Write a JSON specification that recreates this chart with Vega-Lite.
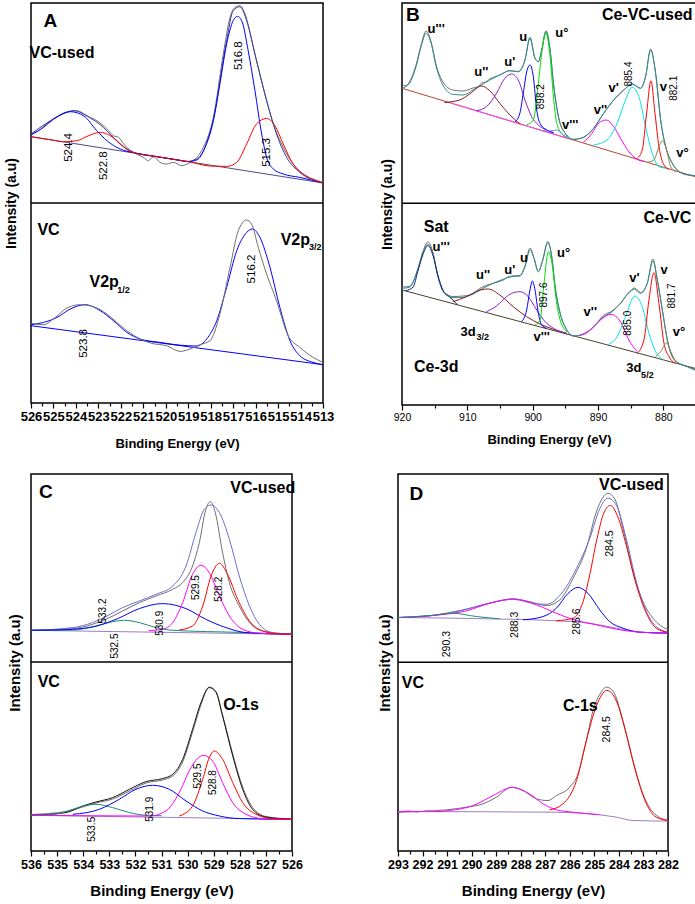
{
"$schema": "https://vega.github.io/schema/vega-lite/v6.json",
"padding": {"left": 3, "top": 2, "right": 0, "bottom": 0},
"config": {
 "font": "Liberation Sans",
 "view": {"stroke": "#000", "strokeWidth": 1.5},
 "axis": {"grid": false, "labelColor": "#000", "titleColor": "#000", "tickColor": "#000", "tickWidth": 1.2, "labelFont": "Liberation Sans", "titleFont": "Liberation Sans", "titleFontWeight": "bold"},
 "text": {"font": "Liberation Sans", "color": "#000"}
},
"datasets": {
"A": [
{"c":"base","s":"t","x":526,"y":266.3},{"c":"base","s":"t","x":513,"y":220},
{"c":"data","s":"t","x":526,"y":269},{"c":"data","s":"t","x":525.73,"y":271.6},{"c":"data","s":"t","x":525.14,"y":282.3},{"c":"data","s":"t","x":524.4,"y":290.6},{"c":"data","s":"t","x":523.96,"y":292.3},{"c":"data","s":"t","x":523.51,"y":287.3},{"c":"data","s":"t","x":523.07,"y":282.3},{"c":"data","s":"t","x":522.62,"y":274},{"c":"data","s":"t","x":522.33,"y":267.3},{"c":"data","s":"t","x":522.1,"y":265.6},{"c":"data","s":"t","x":521.81,"y":257.3},{"c":"data","s":"t","x":521.44,"y":250.6},{"c":"data","s":"t","x":521.0,"y":245.6},{"c":"data","s":"t","x":520.77,"y":242.3},{"c":"data","s":"t","x":520.55,"y":246.3},{"c":"data","s":"t","x":520.25,"y":240.6},{"c":"data","s":"t","x":519.96,"y":239},{"c":"data","s":"t","x":519.66,"y":240.6},{"c":"data","s":"t","x":519.29,"y":237.3},{"c":"data","s":"t","x":518.92,"y":240.6},{"c":"data","s":"t","x":518.62,"y":245.6},{"c":"data","s":"t","x":518.33,"y":255.6},{"c":"data","s":"t","x":517.88,"y":285.6},{"c":"data","s":"t","x":517.44,"y":349},{"c":"data","s":"t","x":517.14,"y":385.6},{"c":"data","s":"t","x":516.92,"y":395.6},{"c":"data","s":"t","x":516.7,"y":397.3},{"c":"data","s":"t","x":516.47,"y":389},{"c":"data","s":"t","x":516.1,"y":355.6},{"c":"data","s":"t","x":515.66,"y":315.6},{"c":"data","s":"t","x":515.21,"y":279},{"c":"data","s":"t","x":514.77,"y":255.6},{"c":"data","s":"t","x":514.33,"y":239},{"c":"data","s":"t","x":513.88,"y":229},{"c":"data","s":"t","x":513.44,"y":224},{"c":"data","s":"t","x":513,"y":220.6},
{"c":"env","s":"t","x":526,"y":269},{"c":"env","s":"t","x":524.99,"y":284},{"c":"env","s":"t","x":524.1,"y":292.3},{"c":"env","s":"t","x":523.36,"y":285},{"c":"env","s":"t","x":522.92,"y":278.3},{"c":"env","s":"t","x":522.33,"y":265.6},{"c":"env","s":"t","x":521.73,"y":254},{"c":"env","s":"t","x":521.29,"y":249.6},{"c":"env","s":"t","x":520.5,"y":246.7},{"c":"env","s":"t","x":519.5,"y":243.1},{"c":"env","s":"t","x":519.07,"y":241.6},{"c":"env","s":"t","x":518.62,"y":244},{"c":"env","s":"t","x":517.88,"y":284},{"c":"env","s":"t","x":517.29,"y":362.3},{"c":"env","s":"t","x":517.0,"y":392.3},{"c":"env","s":"t","x":516.7,"y":396.3},{"c":"env","s":"t","x":516.4,"y":382.3},{"c":"env","s":"t","x":515.96,"y":342.3},{"c":"env","s":"t","x":515.51,"y":302.3},{"c":"env","s":"t","x":515.07,"y":269},{"c":"env","s":"t","x":514.62,"y":245.6},{"c":"env","s":"t","x":514.03,"y":230.6},{"c":"env","s":"t","x":513,"y":220},
{"c":"blue","s":"t","x":526,"y":268},{"c":"blue","s":"t","x":525.44,"y":275.6},{"c":"blue","s":"t","x":524.99,"y":284},{"c":"blue","s":"t","x":524.25,"y":291.3},{"c":"blue","s":"t","x":523.66,"y":287.3},{"c":"blue","s":"t","x":523.07,"y":272.3},{"c":"blue","s":"t","x":522.62,"y":262.3},{"c":"blue","s":"t","x":522.03,"y":254},{"c":"blue","s":"t","x":521.44,"y":250.3},{"c":"blue","s":"t","x":520.5,"y":246.7},{"c":"blue","s":"t","x":519.5,"y":243.1},{"c":"blue","s":"t","x":519.0,"y":241.4},{"c":"blue","s":"t","x":518.62,"y":243},{"c":"blue","s":"t","x":518.25,"y":255.6},{"c":"blue","s":"t","x":517.88,"y":282.3},{"c":"blue","s":"t","x":517.59,"y":319},{"c":"blue","s":"t","x":517.29,"y":359},{"c":"blue","s":"t","x":517.0,"y":382.3},{"c":"blue","s":"t","x":516.81,"y":386.6},{"c":"blue","s":"t","x":516.62,"y":382.3},{"c":"blue","s":"t","x":516.33,"y":352.3},{"c":"blue","s":"t","x":516.03,"y":312.3},{"c":"blue","s":"t","x":515.73,"y":269},{"c":"blue","s":"t","x":515.51,"y":245.6},{"c":"blue","s":"t","x":515.21,"y":234},{"c":"blue","s":"t","x":514.77,"y":229},{"c":"blue","s":"t","x":514.03,"y":225.6},{"c":"blue","s":"t","x":513,"y":220},
{"c":"red","s":"t","x":526,"y":266.3},{"c":"red","s":"t","x":525,"y":262.7},{"c":"red","s":"t","x":524.55,"y":261.2},{"c":"red","s":"t","x":523.96,"y":262.3},{"c":"red","s":"t","x":523.44,"y":267.3},{"c":"red","s":"t","x":522.92,"y":270.6},{"c":"red","s":"t","x":522.47,"y":267.3},{"c":"red","s":"t","x":522.03,"y":259},{"c":"red","s":"t","x":521.59,"y":251.6},{"c":"red","s":"t","x":520.5,"y":246.7},{"c":"red","s":"t","x":519,"y":241.4},{"c":"red","s":"t","x":518,"y":236.9},{"c":"red","s":"t","x":517.29,"y":236.6},{"c":"red","s":"t","x":516.84,"y":240.6},{"c":"red","s":"t","x":516.4,"y":259},{"c":"red","s":"t","x":515.96,"y":279},{"c":"red","s":"t","x":515.51,"y":284.6},{"c":"red","s":"t","x":515.14,"y":277.3},{"c":"red","s":"t","x":514.77,"y":259},{"c":"red","s":"t","x":514.33,"y":239},{"c":"red","s":"t","x":513.88,"y":229},{"c":"red","s":"t","x":513.44,"y":223.3},{"c":"red","s":"t","x":513,"y":220},
{"c":"blue2","s":"b","x":526,"y":77.3},{"c":"blue2","s":"b","x":513,"y":38.3},
{"c":"blue","s":"b","x":526,"y":78.3},{"c":"blue","s":"b","x":525.44,"y":80.6},{"c":"blue","s":"b","x":524.84,"y":85.6},{"c":"blue","s":"b","x":524.25,"y":94},{"c":"blue","s":"b","x":523.59,"y":98.3},{"c":"blue","s":"b","x":522.92,"y":92.3},{"c":"blue","s":"b","x":522.33,"y":82.3},{"c":"blue","s":"b","x":521.73,"y":70.6},{"c":"blue","s":"b","x":521.14,"y":64},{"c":"blue","s":"b","x":520.25,"y":60.6},{"c":"blue","s":"b","x":519.36,"y":57.8},{"c":"blue","s":"b","x":518.62,"y":57},{"c":"blue","s":"b","x":518.18,"y":64},{"c":"blue","s":"b","x":517.73,"y":82.3},{"c":"blue","s":"b","x":517.29,"y":115.6},{"c":"blue","s":"b","x":516.84,"y":152.3},{"c":"blue","s":"b","x":516.4,"y":170.6},{"c":"blue","s":"b","x":516.13,"y":174},{"c":"blue","s":"b","x":515.81,"y":165.6},{"c":"blue","s":"b","x":515.36,"y":135.6},{"c":"blue","s":"b","x":514.92,"y":95.6},{"c":"blue","s":"b","x":514.47,"y":62.3},{"c":"blue","s":"b","x":514.03,"y":47.3},{"c":"blue","s":"b","x":513.44,"y":40.6},{"c":"blue","s":"b","x":513,"y":38.3},
{"c":"data","s":"b","x":526,"y":79.6},{"c":"data","s":"b","x":525.44,"y":78.3},{"c":"data","s":"b","x":524.92,"y":85.6},{"c":"data","s":"b","x":524.4,"y":95},{"c":"data","s":"b","x":523.81,"y":98.3},{"c":"data","s":"b","x":523.22,"y":96.3},{"c":"data","s":"b","x":522.62,"y":89},{"c":"data","s":"b","x":522.18,"y":80.6},{"c":"data","s":"b","x":521.73,"y":72.3},{"c":"data","s":"b","x":521.14,"y":64},{"c":"data","s":"b","x":520.62,"y":59.6},{"c":"data","s":"b","x":519.96,"y":57.3},{"c":"data","s":"b","x":519.36,"y":51.6},{"c":"data","s":"b","x":518.92,"y":54},{"c":"data","s":"b","x":518.48,"y":58.3},{"c":"data","s":"b","x":518.03,"y":62.3},{"c":"data","s":"b","x":517.59,"y":89},{"c":"data","s":"b","x":517.14,"y":135.6},{"c":"data","s":"b","x":516.77,"y":172.3},{"c":"data","s":"b","x":516.4,"y":183},{"c":"data","s":"b","x":516.18,"y":179},{"c":"data","s":"b","x":515.88,"y":155.6},{"c":"data","s":"b","x":515.51,"y":129},{"c":"data","s":"b","x":515.07,"y":102.3},{"c":"data","s":"b","x":514.55,"y":67.3},{"c":"data","s":"b","x":514.03,"y":55.6},{"c":"data","s":"b","x":513.44,"y":45.6},{"c":"data","s":"b","x":513,"y":40.6}
],
"At": [
{"k":"L","t":"A","x":525.14,"y":381.6},{"k":"h","t":"VC-used","x":524.62,"y":349.6},{"k":"h","t":"VC","x":525.22,"y":173},
{"k":"n","t":"516.8","x":516.73,"y":347.3},{"k":"n","t":"524.4","x":524.33,"y":255.6},{"k":"n","t":"522.8","x":522.77,"y":237.3},{"k":"n","t":"515.3","x":515.51,"y":250.6},{"k":"n","t":"516.2","x":516.15,"y":134},{"k":"n","t":"523.8","x":523.66,"y":59.6},
{"k":"h","t":"V2p","x":522.74,"y":120.6},{"k":"s","t":"1/2","x":522.16,"y":113},{"k":"h","t":"V2p","x":514.23,"y":163},{"k":"s","t":"3/2","x":513.62,"y":156.3}
],
"B": [
{"c":"baseR","s":"t","x":920,"y":316.7},{"c":"baseR","s":"t","x":875,"y":228},
{"c":"pink","s":"t","x":912.5,"y":301.9},{"c":"pink","s":"t","x":894.5,"y":266.4},
{"c":"data","s":"t","x":920,"y":319},{"c":"data","s":"t","x":919.2,"y":320},{"c":"data","s":"t","x":918.87,"y":323},{"c":"data","s":"t","x":917.85,"y":340},{"c":"data","s":"t","x":917.08,"y":360},{"c":"data","s":"t","x":916.31,"y":374},{"c":"data","s":"t","x":915.54,"y":363},{"c":"data","s":"t","x":914.77,"y":340},{"c":"data","s":"t","x":913.74,"y":323},{"c":"data","s":"t","x":912.2,"y":315},{"c":"data","s":"t","x":910.67,"y":314},{"c":"data","s":"t","x":909.13,"y":317},{"c":"data","s":"t","x":908.2,"y":319},{"c":"data","s":"t","x":907.85,"y":322},{"c":"data","s":"t","x":907.2,"y":323},{"c":"data","s":"t","x":906.56,"y":326},{"c":"data","s":"t","x":905.03,"y":330},{"c":"data","s":"t","x":903.49,"y":334.3},{"c":"data","s":"t","x":902.21,"y":333.3},{"c":"data","s":"t","x":901.18,"y":345},{"c":"data","s":"t","x":900.41,"y":367.7},{"c":"data","s":"t","x":899.64,"y":346.7},{"c":"data","s":"t","x":899.13,"y":343.3},{"c":"data","s":"t","x":898.62,"y":355},{"c":"data","s":"t","x":897.95,"y":374.3},{"c":"data","s":"t","x":897.33,"y":355},{"c":"data","s":"t","x":896.82,"y":321.7},{"c":"data","s":"t","x":896.05,"y":288.3},{"c":"data","s":"t","x":895.03,"y":271.7},{"c":"data","s":"t","x":893.74,"y":265.7},{"c":"data","s":"t","x":892.21,"y":267.7},{"c":"data","s":"t","x":890.67,"y":276.7},{"c":"data","s":"t","x":889.13,"y":291.7},{"c":"data","s":"t","x":887.59,"y":305},{"c":"data","s":"t","x":886.05,"y":315},{"c":"data","s":"t","x":884.77,"y":321},{"c":"data","s":"t","x":883.49,"y":316.7},{"c":"data","s":"t","x":882.72,"y":328.3},{"c":"data","s":"t","x":881.95,"y":356},{"c":"data","s":"t","x":881.18,"y":331.7},{"c":"data","s":"t","x":880.41,"y":285},{"c":"data","s":"t","x":879.64,"y":258.3},{"c":"data","s":"t","x":878.62,"y":241.7},{"c":"data","s":"t","x":877.59,"y":233.3},{"c":"data","s":"t","x":876.31,"y":230.5},{"c":"data","s":"t","x":875,"y":229.3},
{"c":"envt","s":"t","x":920,"y":316.7},{"c":"envt","s":"t","x":918.87,"y":321.7},{"c":"envt","s":"t","x":917.85,"y":338.3},{"c":"envt","s":"t","x":917.08,"y":358.3},{"c":"envt","s":"t","x":916.31,"y":371.7},{"c":"envt","s":"t","x":915.54,"y":361.7},{"c":"envt","s":"t","x":914.77,"y":338.3},{"c":"envt","s":"t","x":913.74,"y":320},{"c":"envt","s":"t","x":912.2,"y":310.7},{"c":"envt","s":"t","x":910.67,"y":310},{"c":"envt","s":"t","x":909.13,"y":315},{"c":"envt","s":"t","x":907.85,"y":320},{"c":"envt","s":"t","x":906.56,"y":325},{"c":"envt","s":"t","x":905.03,"y":330},{"c":"envt","s":"t","x":903.49,"y":334.3},{"c":"envt","s":"t","x":902.21,"y":333.3},{"c":"envt","s":"t","x":901.18,"y":345},{"c":"envt","s":"t","x":900.41,"y":366.7},{"c":"envt","s":"t","x":899.64,"y":346.7},{"c":"envt","s":"t","x":899.13,"y":343.3},{"c":"envt","s":"t","x":898.62,"y":355},{"c":"envt","s":"t","x":897.95,"y":373.3},{"c":"envt","s":"t","x":897.33,"y":355},{"c":"envt","s":"t","x":896.82,"y":321.7},{"c":"envt","s":"t","x":896.05,"y":288.3},{"c":"envt","s":"t","x":895.03,"y":271.7},{"c":"envt","s":"t","x":893.74,"y":265.7},{"c":"envt","s":"t","x":892.21,"y":267.7},{"c":"envt","s":"t","x":890.67,"y":276.7},{"c":"envt","s":"t","x":889.13,"y":291.7},{"c":"envt","s":"t","x":887.59,"y":305},{"c":"envt","s":"t","x":886.05,"y":315},{"c":"envt","s":"t","x":884.77,"y":321},{"c":"envt","s":"t","x":883.49,"y":316.7},{"c":"envt","s":"t","x":882.72,"y":328.3},{"c":"envt","s":"t","x":881.95,"y":355},{"c":"envt","s":"t","x":881.18,"y":331.7},{"c":"envt","s":"t","x":880.41,"y":285},{"c":"envt","s":"t","x":879.64,"y":258.3},{"c":"envt","s":"t","x":878.62,"y":241.7},{"c":"envt","s":"t","x":877.59,"y":233.3},{"c":"envt","s":"t","x":876.31,"y":230},{"c":"envt","s":"t","x":875,"y":229.3},
{"c":"brown","s":"t","x":913.5,"y":302.5},{"c":"brown","s":"t","x":911.18,"y":305},{"c":"brown","s":"t","x":909.64,"y":311},{"c":"brown","s":"t","x":907.85,"y":319},{"c":"brown","s":"t","x":906.56,"y":314.3},{"c":"brown","s":"t","x":905.03,"y":301.7},{"c":"brown","s":"t","x":903.49,"y":290},{"c":"brown","s":"t","x":901.95,"y":281.1},
{"c":"purple","s":"t","x":908.62,"y":294.2},{"c":"purple","s":"t","x":907.08,"y":298.3},{"c":"purple","s":"t","x":905.54,"y":311.7},{"c":"purple","s":"t","x":904.26,"y":326.7},{"c":"purple","s":"t","x":903.23,"y":331},{"c":"purple","s":"t","x":902.21,"y":325},{"c":"purple","s":"t","x":901.18,"y":305},{"c":"purple","s":"t","x":900.15,"y":288.3},{"c":"purple","s":"t","x":899.13,"y":280},{"c":"purple","s":"t","x":897.85,"y":275},{"c":"purple","s":"t","x":896.82,"y":272.3},
{"c":"blue","s":"t","x":902.7,"y":283},{"c":"blue","s":"t","x":901.95,"y":292},{"c":"blue","s":"t","x":901.44,"y":311.7},{"c":"blue","s":"t","x":900.92,"y":333},{"c":"blue","s":"t","x":900.41,"y":340},{"c":"blue","s":"t","x":899.9,"y":328.3},{"c":"blue","s":"t","x":899.38,"y":295},{"c":"blue","s":"t","x":898.87,"y":281.7},{"c":"blue","s":"t","x":897.85,"y":275},{"c":"blue","s":"t","x":896.82,"y":272.3},
{"c":"green","s":"t","x":900.92,"y":280},{"c":"green","s":"t","x":899.9,"y":285},{"c":"green","s":"t","x":899.13,"y":321.7},{"c":"green","s":"t","x":898.62,"y":351.7},{"c":"green","s":"t","x":898,"y":371.7},{"c":"green","s":"t","x":897.33,"y":348.3},{"c":"green","s":"t","x":896.82,"y":308.3},{"c":"green","s":"t","x":896.31,"y":281.7},{"c":"green","s":"t","x":895.54,"y":271.7},{"c":"green","s":"t","x":894.77,"y":268.3},
{"c":"lav","s":"t","x":898.5,"y":274.3},{"c":"lav","s":"t","x":897.4,"y":274},{"c":"lav","s":"t","x":896.3,"y":275},{"c":"lav","s":"t","x":895.3,"y":269.5},{"c":"lav","s":"t","x":894.5,"y":266.4},
{"c":"mag","s":"t","x":892.21,"y":262.3},{"c":"mag","s":"t","x":890.92,"y":271.7},{"c":"mag","s":"t","x":889.9,"y":281.7},{"c":"mag","s":"t","x":888.77,"y":285},{"c":"mag","s":"t","x":887.59,"y":278.3},{"c":"mag","s":"t","x":886.56,"y":266.7},{"c":"mag","s":"t","x":885.28,"y":253.3},{"c":"mag","s":"t","x":884,"y":245.7},{"c":"mag","s":"t","x":882.97,"y":243.7},
{"c":"cyan","s":"t","x":890.67,"y":260},{"c":"cyan","s":"t","x":888.62,"y":265},{"c":"cyan","s":"t","x":887.08,"y":281.7},{"c":"cyan","s":"t","x":885.79,"y":305},{"c":"cyan","s":"t","x":884.77,"y":317.7},{"c":"cyan","s":"t","x":883.74,"y":308.3},{"c":"cyan","s":"t","x":882.72,"y":278.3},{"c":"cyan","s":"t","x":881.69,"y":251.7},{"c":"cyan","s":"t","x":880.67,"y":238.3},{"c":"cyan","s":"t","x":879.38,"y":236.6},
{"c":"red","s":"t","x":884,"y":246.7},{"c":"red","s":"t","x":883.23,"y":255},{"c":"red","s":"t","x":882.56,"y":291.7},{"c":"red","s":"t","x":881.9,"y":324.3},{"c":"red","s":"t","x":881.28,"y":291.7},{"c":"red","s":"t","x":880.67,"y":258.3},{"c":"red","s":"t","x":879.9,"y":240},{"c":"red","s":"t","x":879.13,"y":235.7},
{"c":"olive","s":"t","x":882.46,"y":242.7},{"c":"olive","s":"t","x":881.44,"y":245},{"c":"olive","s":"t","x":880.67,"y":258.3},{"c":"olive","s":"t","x":880.15,"y":264.3},{"c":"olive","s":"t","x":879.49,"y":255},{"c":"olive","s":"t","x":878.87,"y":238.3},{"c":"olive","s":"t","x":878.1,"y":233.3},
{"c":"baseK","s":"b","x":920,"y":115},{"c":"baseK","s":"b","x":875,"y":36.4},
{"c":"data","s":"b","x":920,"y":118},{"c":"data","s":"b","x":918.87,"y":118.5},{"c":"data","s":"b","x":917.59,"y":136},{"c":"data","s":"b","x":916.82,"y":153},{"c":"data","s":"b","x":916.05,"y":163},{"c":"data","s":"b","x":915.28,"y":153},{"c":"data","s":"b","x":914.51,"y":129},{"c":"data","s":"b","x":913.49,"y":112},{"c":"data","s":"b","x":912.2,"y":108.5},{"c":"data","s":"b","x":910.67,"y":109},{"c":"data","s":"b","x":909.13,"y":111},{"c":"data","s":"b","x":908.2,"y":116},{"c":"data","s":"b","x":907.59,"y":118.3},{"c":"data","s":"b","x":906.05,"y":121.7},{"c":"data","s":"b","x":904.51,"y":125},{"c":"data","s":"b","x":903.8,"y":128},{"c":"data","s":"b","x":903.23,"y":129},{"c":"data","s":"b","x":901.95,"y":129.5},{"c":"data","s":"b","x":901.18,"y":139},{"c":"data","s":"b","x":900.41,"y":157},{"c":"data","s":"b","x":899.79,"y":146.7},{"c":"data","s":"b","x":899.13,"y":133.3},{"c":"data","s":"b","x":898.46,"y":145},{"c":"data","s":"b","x":897.69,"y":163.5},{"c":"data","s":"b","x":897.08,"y":148.3},{"c":"data","s":"b","x":896.56,"y":118.3},{"c":"data","s":"b","x":895.79,"y":91.7},{"c":"data","s":"b","x":894.77,"y":75},{"c":"data","s":"b","x":893.74,"y":69},{"c":"data","s":"b","x":892.21,"y":70.7},{"c":"data","s":"b","x":890.67,"y":78.3},{"c":"data","s":"b","x":889.13,"y":89.5},{"c":"data","s":"b","x":887.85,"y":94},{"c":"data","s":"b","x":886.56,"y":101.7},{"c":"data","s":"b","x":885.28,"y":112.3},{"c":"data","s":"b","x":884.41,"y":117},{"c":"data","s":"b","x":883.49,"y":112.5},{"c":"data","s":"b","x":882.46,"y":121.7},{"c":"data","s":"b","x":881.59,"y":146},{"c":"data","s":"b","x":880.92,"y":125},{"c":"data","s":"b","x":880.15,"y":95},{"c":"data","s":"b","x":879.38,"y":65},{"c":"data","s":"b","x":878.62,"y":48.3},{"c":"data","s":"b","x":877.59,"y":41.7},{"c":"data","s":"b","x":876.31,"y":38.3},{"c":"data","s":"b","x":875,"y":35},
{"c":"envt","s":"b","x":920,"y":116.7},{"c":"envt","s":"b","x":918.87,"y":117.7},{"c":"envt","s":"b","x":917.59,"y":135},{"c":"envt","s":"b","x":916.82,"y":151.7},{"c":"envt","s":"b","x":916.05,"y":160.7},{"c":"envt","s":"b","x":915.28,"y":151.7},{"c":"envt","s":"b","x":914.51,"y":128.3},{"c":"envt","s":"b","x":913.49,"y":111.7},{"c":"envt","s":"b","x":912.2,"y":107.3},{"c":"envt","s":"b","x":910.67,"y":107.7},{"c":"envt","s":"b","x":909.13,"y":111},{"c":"envt","s":"b","x":907.59,"y":116.7},{"c":"envt","s":"b","x":906.05,"y":121.7},{"c":"envt","s":"b","x":904.51,"y":125.7},{"c":"envt","s":"b","x":903.23,"y":128.3},{"c":"envt","s":"b","x":901.95,"y":129},{"c":"envt","s":"b","x":901.18,"y":138.3},{"c":"envt","s":"b","x":900.41,"y":155},{"c":"envt","s":"b","x":899.79,"y":146.7},{"c":"envt","s":"b","x":899.13,"y":133.3},{"c":"envt","s":"b","x":898.46,"y":145},{"c":"envt","s":"b","x":897.69,"y":162.3},{"c":"envt","s":"b","x":897.08,"y":148.3},{"c":"envt","s":"b","x":896.56,"y":118.3},{"c":"envt","s":"b","x":895.79,"y":91.7},{"c":"envt","s":"b","x":894.77,"y":75},{"c":"envt","s":"b","x":893.74,"y":69},{"c":"envt","s":"b","x":892.21,"y":70.7},{"c":"envt","s":"b","x":890.67,"y":78.3},{"c":"envt","s":"b","x":889.13,"y":88.3},{"c":"envt","s":"b","x":887.85,"y":93.3},{"c":"envt","s":"b","x":886.56,"y":101.7},{"c":"envt","s":"b","x":885.28,"y":112.3},{"c":"envt","s":"b","x":884.41,"y":115.7},{"c":"envt","s":"b","x":883.49,"y":111.7},{"c":"envt","s":"b","x":882.46,"y":121.7},{"c":"envt","s":"b","x":881.59,"y":144},{"c":"envt","s":"b","x":880.92,"y":125},{"c":"envt","s":"b","x":880.15,"y":95},{"c":"envt","s":"b","x":879.38,"y":65},{"c":"envt","s":"b","x":878.62,"y":48.3},{"c":"envt","s":"b","x":877.59,"y":41.7},{"c":"envt","s":"b","x":876.31,"y":38.3},{"c":"envt","s":"b","x":875,"y":34.3},
{"c":"navy","s":"b","x":919.5,"y":114.1},{"c":"navy","s":"b","x":918.3,"y":118},{"c":"navy","s":"b","x":917.59,"y":133.3},{"c":"navy","s":"b","x":916.82,"y":150},{"c":"navy","s":"b","x":916.05,"y":159.3},{"c":"navy","s":"b","x":915.28,"y":150},{"c":"navy","s":"b","x":914.51,"y":130},{"c":"navy","s":"b","x":913.74,"y":115},{"c":"navy","s":"b","x":912.72,"y":108.3},{"c":"navy","s":"b","x":911.5,"y":100.2},
{"c":"brown","s":"b","x":912.2,"y":103.3},{"c":"brown","s":"b","x":910.15,"y":108.3},{"c":"brown","s":"b","x":908.36,"y":114.3},{"c":"brown","s":"b","x":906.82,"y":116},{"c":"brown","s":"b","x":905.03,"y":110},{"c":"brown","s":"b","x":902.97,"y":98.3},{"c":"brown","s":"b","x":900.92,"y":88.3},{"c":"brown","s":"b","x":898.87,"y":81},{"c":"brown","s":"b","x":896.82,"y":75.7},{"c":"brown","s":"b","x":894.77,"y":71.7},
{"c":"purple","s":"b","x":907.08,"y":93.3},{"c":"purple","s":"b","x":905.54,"y":99},{"c":"purple","s":"b","x":904,"y":108.3},{"c":"purple","s":"b","x":902.97,"y":112.3},{"c":"purple","s":"b","x":901.95,"y":113.3},{"c":"purple","s":"b","x":900.67,"y":108.3},{"c":"purple","s":"b","x":899.38,"y":95},{"c":"purple","s":"b","x":898.1,"y":83.3},{"c":"purple","s":"b","x":896.82,"y":76.7},{"c":"purple","s":"b","x":894.77,"y":71.7},
{"c":"blue","s":"b","x":901.69,"y":83.3},{"c":"blue","s":"b","x":900.92,"y":95},{"c":"blue","s":"b","x":900.41,"y":115},{"c":"blue","s":"b","x":900.05,"y":124},{"c":"blue","s":"b","x":899.64,"y":115},{"c":"blue","s":"b","x":899.13,"y":91.7},{"c":"blue","s":"b","x":898.62,"y":80},{"c":"blue","s":"b","x":897.85,"y":76.7},
{"c":"green","s":"b","x":899.64,"y":80},{"c":"green","s":"b","x":898.87,"y":85},{"c":"green","s":"b","x":898.26,"y":121.7},{"c":"green","s":"b","x":897.59,"y":153.3},{"c":"green","s":"b","x":896.97,"y":138.3},{"c":"green","s":"b","x":896.46,"y":108.3},{"c":"green","s":"b","x":895.79,"y":85},{"c":"green","s":"b","x":894.77,"y":73.3},
{"c":"mag","s":"b","x":892.72,"y":70},{"c":"mag","s":"b","x":891.18,"y":75},{"c":"mag","s":"b","x":889.64,"y":85},{"c":"mag","s":"b","x":888,"y":90.7},{"c":"mag","s":"b","x":886.56,"y":83.3},{"c":"mag","s":"b","x":885.28,"y":65},{"c":"mag","s":"b","x":884,"y":53.3},
{"c":"cyan","s":"b","x":888.62,"y":60},{"c":"cyan","s":"b","x":887.08,"y":68.3},{"c":"cyan","s":"b","x":885.79,"y":88.3},{"c":"cyan","s":"b","x":884.36,"y":109},{"c":"cyan","s":"b","x":883.23,"y":98.3},{"c":"cyan","s":"b","x":882.2,"y":71.7},{"c":"cyan","s":"b","x":881.18,"y":53.3},{"c":"cyan","s":"b","x":880.15,"y":45.7},
{"c":"red","s":"b","x":884,"y":51.7},{"c":"red","s":"b","x":882.97,"y":65},{"c":"red","s":"b","x":882.2,"y":105},{"c":"red","s":"b","x":881.44,"y":132.3},{"c":"red","s":"b","x":880.67,"y":101.7},{"c":"red","s":"b","x":879.9,"y":61.7},{"c":"red","s":"b","x":879.13,"y":48.3},{"c":"red","s":"b","x":878.1,"y":41.7},
{"c":"olive","s":"b","x":881.18,"y":48.3},{"c":"olive","s":"b","x":880.41,"y":53.3},{"c":"olive","s":"b","x":879.49,"y":62.3},{"c":"olive","s":"b","x":878.87,"y":53.3},{"c":"olive","s":"b","x":878.1,"y":43.3}
],
"Bt": [
{"k":"L","t":"B","x":918.35,"y":390},{"k":"h","t":"Ce-VC-used","x":882.46,"y":390},
{"k":"u","t":"u'''","x":914.77,"y":375.7},{"k":"u","t":"u''","x":907.85,"y":333.3},{"k":"u","t":"u'","x":903.49,"y":343.3},{"k":"u","t":"u","x":901.44,"y":368.3},{"k":"u","t":"u°","x":895.54,"y":371.7},{"k":"n","t":"898.2","x":898.72,"y":308.3},{"k":"u","t":"v'''","x":894.26,"y":280},{"k":"u","t":"v''","x":889.64,"y":295},{"k":"u","t":"v'","x":887.59,"y":316.7},{"k":"n","t":"885.4","x":885.28,"y":331},{"k":"u","t":"v","x":880,"y":318.3},{"k":"n","t":"882.1","x":878.36,"y":316.7},{"k":"u","t":"v°","x":877.08,"y":251.7},
{"k":"h","t":"Ce-VC","x":879.38,"y":186.7},{"k":"h","t":"Sat","x":914.77,"y":178.3},{"k":"u","t":"u'''","x":914,"y":158.3},{"k":"u","t":"u''","x":907.59,"y":130},{"k":"u","t":"u'","x":903.49,"y":135},{"k":"u","t":"u","x":901.33,"y":146.7},{"k":"u","t":"u°","x":895.28,"y":151.7},{"k":"n","t":"897.6","x":898.2,"y":110},{"k":"u","t":"3d","x":909.9,"y":73.3},{"k":"s","t":"3/2","x":908.6,"y":67.7},{"k":"u","t":"v'''","x":898.62,"y":68.3},{"k":"u","t":"v''","x":891.18,"y":93.3},{"k":"u","t":"v'","x":884.41,"y":126.7},{"k":"n","t":"885.0","x":885.44,"y":81.7},{"k":"u","t":"v","x":879.9,"y":135},{"k":"n","t":"881.7","x":878.62,"y":109},{"k":"u","t":"v°","x":877.59,"y":73.3},{"k":"h","t":"Ce-3d","x":914.77,"y":38.3},{"k":"u","t":"3d","x":884.51,"y":36.7},{"k":"s","t":"5/2","x":883.4,"y":30}
],
"C": [
{"c":"baseP","s":"t","x":536,"y":220.7},{"c":"baseP","s":"t","x":526,"y":216.7},
{"c":"data","s":"t","x":536,"y":220.7},{"c":"data","s":"t","x":534.4,"y":222.4},{"c":"data","s":"t","x":533.64,"y":226.7},{"c":"data","s":"t","x":533.13,"y":231.7},{"c":"data","s":"t","x":532.49,"y":240},{"c":"data","s":"t","x":531.85,"y":248.4},{"c":"data","s":"t","x":531.21,"y":255},{"c":"data","s":"t","x":530.57,"y":261.7},{"c":"data","s":"t","x":530.19,"y":268.4},{"c":"data","s":"t","x":529.81,"y":285},{"c":"data","s":"t","x":529.55,"y":308.4},{"c":"data","s":"t","x":529.3,"y":341.7},{"c":"data","s":"t","x":529.13,"y":349.4},{"c":"data","s":"t","x":528.94,"y":338.4},{"c":"data","s":"t","x":528.66,"y":298.4},{"c":"data","s":"t","x":528.4,"y":268.4},{"c":"data","s":"t","x":528.02,"y":245},{"c":"data","s":"t","x":527.63,"y":228.4},{"c":"data","s":"t","x":527.12,"y":220},{"c":"data","s":"t","x":526,"y":216.7},
{"c":"envs","s":"t","x":536,"y":220.7},{"c":"envs","s":"t","x":534.4,"y":223.4},{"c":"envs","s":"t","x":533.64,"y":228.4},{"c":"envs","s":"t","x":533.13,"y":234.4},{"c":"envs","s":"t","x":532.49,"y":243.4},{"c":"envs","s":"t","x":531.85,"y":250},{"c":"envs","s":"t","x":531.21,"y":256.7},{"c":"envs","s":"t","x":530.57,"y":265},{"c":"envs","s":"t","x":530.06,"y":285},{"c":"envs","s":"t","x":529.68,"y":318.4},{"c":"envs","s":"t","x":529.36,"y":341.7},{"c":"envs","s":"t","x":529.1,"y":346},{"c":"envs","s":"t","x":528.78,"y":338.4},{"c":"envs","s":"t","x":528.4,"y":311.7},{"c":"envs","s":"t","x":528.02,"y":275},{"c":"envs","s":"t","x":527.63,"y":245},{"c":"envs","s":"t","x":527.25,"y":226.7},{"c":"envs","s":"t","x":526.74,"y":218.4},{"c":"envs","s":"t","x":526,"y":216.7},
{"c":"teal","s":"t","x":536,"y":220.7},{"c":"teal","s":"t","x":534.4,"y":221},{"c":"teal","s":"t","x":533.51,"y":225},{"c":"teal","s":"t","x":532.87,"y":229.4},{"c":"teal","s":"t","x":532.42,"y":230.7},{"c":"teal","s":"t","x":531.85,"y":228.4},{"c":"teal","s":"t","x":531.21,"y":223.4},{"c":"teal","s":"t","x":530.57,"y":220.7},{"c":"teal","s":"t","x":528,"y":218.6},{"c":"teal","s":"t","x":526,"y":216.7},
{"c":"blue","s":"t","x":536,"y":220.7},{"c":"blue","s":"t","x":535.04,"y":221},{"c":"blue","s":"t","x":533.77,"y":223.4},{"c":"blue","s":"t","x":532.74,"y":231.7},{"c":"blue","s":"t","x":531.85,"y":242.4},{"c":"blue","s":"t","x":530.96,"y":247.4},{"c":"blue","s":"t","x":530.06,"y":242.4},{"c":"blue","s":"t","x":529.3,"y":231.7},{"c":"blue","s":"t","x":528.53,"y":223.4},{"c":"blue","s":"t","x":527.76,"y":218.4},{"c":"blue","s":"t","x":526,"y":216.7},
{"c":"mag","s":"t","x":531.5,"y":220.3},{"c":"mag","s":"t","x":530.96,"y":221.7},{"c":"mag","s":"t","x":530.57,"y":228.4},{"c":"mag","s":"t","x":530.19,"y":248.4},{"c":"mag","s":"t","x":529.81,"y":276.7},{"c":"mag","s":"t","x":529.49,"y":285.7},{"c":"mag","s":"t","x":529.17,"y":278.4},{"c":"mag","s":"t","x":528.78,"y":255},{"c":"mag","s":"t","x":528.4,"y":235},{"c":"mag","s":"t","x":527.89,"y":221.7},{"c":"mag","s":"t","x":527.25,"y":217.7},{"c":"mag","s":"t","x":526,"y":216.7},
{"c":"red","s":"t","x":530.32,"y":221},{"c":"red","s":"t","x":529.81,"y":225},{"c":"red","s":"t","x":529.42,"y":245},{"c":"red","s":"t","x":529.1,"y":275},{"c":"red","s":"t","x":528.78,"y":287.7},{"c":"red","s":"t","x":528.47,"y":276.7},{"c":"red","s":"t","x":528.08,"y":251.7},{"c":"red","s":"t","x":527.63,"y":230},{"c":"red","s":"t","x":527.12,"y":220},{"c":"red","s":"t","x":526.61,"y":217.4},{"c":"red","s":"t","x":526,"y":216.7},
{"c":"baseP","s":"b","x":536,"y":35.7},{"c":"baseP","s":"b","x":526,"y":31.7},
{"c":"data","s":"b","x":536,"y":36.5},{"c":"data","s":"b","x":534.66,"y":39.5},{"c":"data","s":"b","x":534.02,"y":44},{"c":"data","s":"b","x":533.51,"y":48},{"c":"data","s":"b","x":532.87,"y":52},{"c":"data","s":"b","x":532.23,"y":60},{"c":"data","s":"b","x":531.59,"y":68},{"c":"data","s":"b","x":530.96,"y":71},{"c":"data","s":"b","x":530.57,"y":75},{"c":"data","s":"b","x":530.19,"y":89},{"c":"data","s":"b","x":529.81,"y":119},{"c":"data","s":"b","x":529.49,"y":146},{"c":"data","s":"b","x":529.17,"y":164},{"c":"data","s":"b","x":528.91,"y":159.5},{"c":"data","s":"b","x":528.66,"y":136},{"c":"data","s":"b","x":528.27,"y":97},{"c":"data","s":"b","x":527.89,"y":64},{"c":"data","s":"b","x":527.51,"y":43.5},{"c":"data","s":"b","x":527,"y":34.5},{"c":"data","s":"b","x":526,"y":32},
{"c":"envk","s":"b","x":536,"y":35.7},{"c":"envk","s":"b","x":534.66,"y":38.4},{"c":"envk","s":"b","x":534.02,"y":45},{"c":"envk","s":"b","x":533.51,"y":49},{"c":"envk","s":"b","x":532.87,"y":53.4},{"c":"envk","s":"b","x":532.23,"y":61.7},{"c":"envk","s":"b","x":531.59,"y":69.4},{"c":"envk","s":"b","x":530.96,"y":72.4},{"c":"envk","s":"b","x":530.57,"y":76.7},{"c":"envk","s":"b","x":530.19,"y":91.7},{"c":"envk","s":"b","x":529.81,"y":121.7},{"c":"envk","s":"b","x":529.49,"y":148.4},{"c":"envk","s":"b","x":529.17,"y":163.4},{"c":"envk","s":"b","x":528.91,"y":158.4},{"c":"envk","s":"b","x":528.66,"y":135},{"c":"envk","s":"b","x":528.27,"y":95},{"c":"envk","s":"b","x":527.89,"y":61.7},{"c":"envk","s":"b","x":527.51,"y":41.7},{"c":"envk","s":"b","x":527,"y":34},{"c":"envk","s":"b","x":526,"y":31.7},
{"c":"teal","s":"b","x":536,"y":35.7},{"c":"teal","s":"b","x":535.04,"y":37},{"c":"teal","s":"b","x":534.4,"y":41.7},{"c":"teal","s":"b","x":533.89,"y":45.7},{"c":"teal","s":"b","x":533.51,"y":46.7},{"c":"teal","s":"b","x":532.87,"y":43.4},{"c":"teal","s":"b","x":532.23,"y":38.4},{"c":"teal","s":"b","x":531.59,"y":35.7},{"c":"teal","s":"b","x":531,"y":35.3},
{"c":"blue","s":"b","x":534.4,"y":36.7},{"c":"blue","s":"b","x":533.38,"y":41.7},{"c":"blue","s":"b","x":532.62,"y":51.7},{"c":"blue","s":"b","x":531.98,"y":61.7},{"c":"blue","s":"b","x":531.34,"y":65.7},{"c":"blue","s":"b","x":530.7,"y":61.7},{"c":"blue","s":"b","x":530.06,"y":50},{"c":"blue","s":"b","x":529.42,"y":40},{"c":"blue","s":"b","x":528.78,"y":35},{"c":"blue","s":"b","x":528.02,"y":32.4},{"c":"blue","s":"b","x":526,"y":31.7},
{"c":"mag","s":"b","x":536,"y":35.7},{"c":"mag","s":"b","x":531.47,"y":35},{"c":"mag","s":"b","x":530.83,"y":40},{"c":"mag","s":"b","x":530.32,"y":58.4},{"c":"mag","s":"b","x":529.87,"y":83.4},{"c":"mag","s":"b","x":529.4,"y":95.7},{"c":"mag","s":"b","x":529.04,"y":90},{"c":"mag","s":"b","x":528.66,"y":68.4},{"c":"mag","s":"b","x":528.27,"y":48.4},{"c":"mag","s":"b","x":527.76,"y":36.7},{"c":"mag","s":"b","x":527.12,"y":32.4},{"c":"mag","s":"b","x":526,"y":31.7},
{"c":"red","s":"b","x":530.32,"y":35},{"c":"red","s":"b","x":529.81,"y":45},{"c":"red","s":"b","x":529.42,"y":71.7},{"c":"red","s":"b","x":529.17,"y":93.4},{"c":"red","s":"b","x":528.98,"y":100},{"c":"red","s":"b","x":528.66,"y":91.7},{"c":"red","s":"b","x":528.27,"y":68.4},{"c":"red","s":"b","x":527.89,"y":48.4},{"c":"red","s":"b","x":527.38,"y":36.7},{"c":"red","s":"b","x":526.74,"y":32.4},{"c":"red","s":"b","x":526,"y":31.7}
],
"Ct": [
{"k":"L","t":"C","x":535.43,"y":359.4},{"k":"h","t":"VC-used","x":527.12,"y":363.4},
{"k":"n","t":"533.2","x":533.23,"y":240},{"k":"n","t":"532.5","x":532.77,"y":205},{"k":"n","t":"530.9","x":531.06,"y":227.7},{"k":"n","t":"529.5","x":529.68,"y":263.4},{"k":"n","t":"528.2","x":528.78,"y":261.7},
{"k":"h","t":"VC","x":535.32,"y":169},{"k":"h","t":"O-1s","x":527.95,"y":145.7},
{"k":"n","t":"529.5","x":529.61,"y":75},{"k":"n","t":"528.8","x":529.01,"y":68.4},{"k":"n","t":"531.9","x":531.44,"y":41.7},{"k":"n","t":"533.5","x":533.66,"y":21.7}
],
"D": [
{"c":"baseP","s":"t","x":293,"y":234.7},{"c":"baseP","s":"t","x":289.27,"y":233.4},{"c":"baseP","s":"t","x":286.55,"y":231.4},{"c":"baseP","s":"t","x":285.19,"y":229},{"c":"baseP","s":"t","x":284.1,"y":224},{"c":"baseP","s":"t","x":283.15,"y":220},{"c":"baseP","s":"t","x":282,"y":219},
{"c":"data","s":"t","x":293,"y":234.7},{"c":"data","s":"t","x":291.98,"y":235.7},{"c":"data","s":"t","x":290.9,"y":239.7},{"c":"data","s":"t","x":289.94,"y":244.7},{"c":"data","s":"t","x":289,"y":250.7},{"c":"data","s":"t","x":288.31,"y":253.4},{"c":"data","s":"t","x":287.64,"y":250.7},{"c":"data","s":"t","x":286.96,"y":246.7},{"c":"data","s":"t","x":286.41,"y":252.4},{"c":"data","s":"t","x":285.87,"y":274},{"c":"data","s":"t","x":285.33,"y":304},{"c":"data","s":"t","x":284.92,"y":340.7},{"c":"data","s":"t","x":284.65,"y":355.7},{"c":"data","s":"t","x":284.45,"y":359.7},{"c":"data","s":"t","x":284.17,"y":354},{"c":"data","s":"t","x":283.83,"y":324},{"c":"data","s":"t","x":283.43,"y":280.7},{"c":"data","s":"t","x":283.02,"y":250.7},{"c":"data","s":"t","x":282.61,"y":234},{"c":"data","s":"t","x":282,"y":222.4},
{"c":"envs","s":"t","x":293,"y":234.7},{"c":"envs","s":"t","x":290.9,"y":239},{"c":"envs","s":"t","x":289,"y":250.7},{"c":"envs","s":"t","x":288.31,"y":253},{"c":"envs","s":"t","x":287.5,"y":249},{"c":"envs","s":"t","x":286.96,"y":248},{"c":"envs","s":"t","x":286.28,"y":260.7},{"c":"envs","s":"t","x":285.73,"y":284},{"c":"envs","s":"t","x":285.19,"y":314},{"c":"envs","s":"t","x":284.78,"y":344},{"c":"envs","s":"t","x":284.45,"y":354.7},{"c":"envs","s":"t","x":284.1,"y":347.4},{"c":"envs","s":"t","x":283.7,"y":314},{"c":"envs","s":"t","x":283.29,"y":270.7},{"c":"envs","s":"t","x":282.88,"y":240.7},{"c":"envs","s":"t","x":282.48,"y":225.7},{"c":"envs","s":"t","x":282,"y":220},
{"c":"red","s":"t","x":286.55,"y":231.4},{"c":"red","s":"t","x":285.87,"y":234},{"c":"red","s":"t","x":285.46,"y":250.7},{"c":"red","s":"t","x":285.19,"y":277.4},{"c":"red","s":"t","x":284.92,"y":310.7},{"c":"red","s":"t","x":284.65,"y":337.4},{"c":"red","s":"t","x":284.35,"y":347.4},{"c":"red","s":"t","x":284.04,"y":335.7},{"c":"red","s":"t","x":283.7,"y":307.4},{"c":"red","s":"t","x":283.29,"y":267.4},{"c":"red","s":"t","x":282.88,"y":239},{"c":"red","s":"t","x":282.48,"y":224},{"c":"red","s":"t","x":282,"y":219.7},
{"c":"blue","s":"t","x":287.91,"y":232.4},{"c":"blue","s":"t","x":287.09,"y":235.7},{"c":"blue","s":"t","x":286.55,"y":244},{"c":"blue","s":"t","x":286.07,"y":259},{"c":"blue","s":"t","x":285.67,"y":265},{"c":"blue","s":"t","x":285.26,"y":259},{"c":"blue","s":"t","x":284.78,"y":242.4},{"c":"blue","s":"t","x":284.38,"y":230.7},{"c":"blue","s":"t","x":283.83,"y":224},{"c":"blue","s":"t","x":283.15,"y":220},{"c":"blue","s":"t","x":282,"y":219},
{"c":"mag","s":"t","x":293,"y":234.7},{"c":"mag","s":"t","x":291.3,"y":237.4},{"c":"mag","s":"t","x":290.22,"y":241.4},{"c":"mag","s":"t","x":289.27,"y":249},{"c":"mag","s":"t","x":288.31,"y":253.4},{"c":"mag","s":"t","x":287.36,"y":247.4},{"c":"mag","s":"t","x":286.55,"y":239},{"c":"mag","s":"t","x":285.73,"y":231.7},{"c":"mag","s":"t","x":284.92,"y":227.4},{"c":"mag","s":"t","x":284.1,"y":223},{"c":"mag","s":"t","x":283.15,"y":220},{"c":"mag","s":"t","x":282,"y":219},
{"c":"teal","s":"t","x":293,"y":234.7},{"c":"teal","s":"t","x":291.71,"y":236.7},{"c":"teal","s":"t","x":290.76,"y":239},{"c":"teal","s":"t","x":289.81,"y":235.7},{"c":"teal","s":"t","x":288.86,"y":233.4},
{"c":"baseP","s":"b","x":293,"y":39.7},{"c":"baseP","s":"b","x":286.55,"y":39},{"c":"baseP","s":"b","x":285.19,"y":37.4},{"c":"baseP","s":"b","x":284.1,"y":34},{"c":"baseP","s":"b","x":283.43,"y":30.7},{"c":"baseP","s":"b","x":282,"y":30},
{"c":"data","s":"b","x":293,"y":39},{"c":"data","s":"b","x":291.03,"y":41.4},{"c":"data","s":"b","x":290.22,"y":44},{"c":"data","s":"b","x":289.54,"y":47.4},{"c":"data","s":"b","x":289,"y":54},{"c":"data","s":"b","x":288.38,"y":64},{"c":"data","s":"b","x":287.91,"y":60.7},{"c":"data","s":"b","x":287.36,"y":52.4},{"c":"data","s":"b","x":286.89,"y":50.7},{"c":"data","s":"b","x":286.55,"y":55.7},{"c":"data","s":"b","x":286.01,"y":64},{"c":"data","s":"b","x":285.67,"y":77.4},{"c":"data","s":"b","x":285.33,"y":110.7},{"c":"data","s":"b","x":285.06,"y":140.7},{"c":"data","s":"b","x":284.78,"y":157.4},{"c":"data","s":"b","x":284.51,"y":164.7},{"c":"data","s":"b","x":284.24,"y":160.7},{"c":"data","s":"b","x":283.83,"y":130.7},{"c":"data","s":"b","x":283.43,"y":90.7},{"c":"data","s":"b","x":283.02,"y":57.4},{"c":"data","s":"b","x":282.61,"y":39},{"c":"data","s":"b","x":282,"y":30.7},
{"c":"red","s":"b","x":286.82,"y":41.4},{"c":"red","s":"b","x":286.28,"y":47.4},{"c":"red","s":"b","x":285.73,"y":70.7},{"c":"red","s":"b","x":285.33,"y":110.7},{"c":"red","s":"b","x":284.92,"y":145.7},{"c":"red","s":"b","x":284.49,"y":161.4},{"c":"red","s":"b","x":284.1,"y":150.7},{"c":"red","s":"b","x":283.7,"y":117.4},{"c":"red","s":"b","x":283.29,"y":77.4},{"c":"red","s":"b","x":282.88,"y":47.4},{"c":"red","s":"b","x":282.48,"y":34},{"c":"red","s":"b","x":282,"y":30.7},
{"c":"mag","s":"b","x":293,"y":39},{"c":"mag","s":"b","x":292.6,"y":40.2},{"c":"mag","s":"b","x":292.2,"y":39.3},{"c":"mag","s":"b","x":291.8,"y":40.3},{"c":"mag","s":"b","x":291.4,"y":39.6},{"c":"mag","s":"b","x":290.9,"y":40.7},{"c":"mag","s":"b","x":289.94,"y":45.7},{"c":"mag","s":"b","x":289.13,"y":55.7},{"c":"mag","s":"b","x":288.34,"y":64},{"c":"mag","s":"b","x":287.64,"y":57.4},{"c":"mag","s":"b","x":287.09,"y":47.4},{"c":"mag","s":"b","x":286.55,"y":41.4},{"c":"mag","s":"b","x":285.87,"y":39},{"c":"mag","s":"b","x":284.8,"y":36.5}
],
"Dt": [
{"k":"L","t":"D","x":292.25,"y":358.4},{"k":"h","t":"VC-used","x":283.49,"y":368},
{"k":"n","t":"284.5","x":284.38,"y":309},{"k":"n","t":"285.6","x":285.69,"y":230.7},{"k":"n","t":"288.3","x":288.25,"y":227.4},{"k":"n","t":"290.3","x":291,"y":208},
{"k":"h","t":"VC","x":292.39,"y":169},{"k":"h","t":"C-1s","x":285.57,"y":145.7},{"k":"n","t":"284.5","x":284.49,"y":122.4}
]
},
"spacing": 22,
"vconcat": [
{"hconcat": [
{"width": 292, "height": 400, "resolve": {"axis": {"x": "independent"}}, "layer": [
 {"data": {"name": "A"}, "mark": {"type": "line", "interpolate": "monotone"},
  "encoding": {
   "x": {"field": "x", "type": "quantitative", "title": "Binding Energy (eV)", "scale": {"domain": [526, 513], "nice": false, "zero": false},
     "axis": {"orient": "bottom", "values": [526,525,524,523,522,521,520,519,518,517,516,515,514,513], "tickSize": 5, "labelFontSize": 13, "labelFontWeight": "bold", "labelOverlap": false, "labelFlush": false, "domain": false, "titleFontSize": 13, "titlePadding": 14}},
   "y": {"field": "y", "type": "quantitative", "title": "Intensity (a.u)", "scale": {"domain": [0, 400], "nice": false, "zero": false}, "axis": {"labels": false, "ticks": false, "domain": false, "titleFontSize": 14, "titlePadding": 13}},
   "color": {"field": "c", "type": "nominal", "legend": null, "scale": {"domain": ["data","env","envs","envk","envt","base","baseR","baseK","baseP","blue","blue2","red","mag","pink","teal","brown","purple","green","cyan","olive","lav","navy"], "range": ["#707070","#3c3c9c","#6e6ed0","#111111","#2e8b8b","#4c4c8c","#b8452e","#4a4030","#9a80c0","#0000ff","#0000ff","#ff0000","#ff00ff","#ff44ff","#1d8b78","#8b1a1a","#8a20d0","#00dd00","#00e5e5","#8f8050","#7b7bff","#1a237e"]}},
   "strokeWidth": {"field": "c", "type": "ordinal", "legend": null, "scale": {"domain": ["data","env","envs","envk","envt","base","baseR","baseK","baseP","blue","blue2","red","mag","pink","teal","brown","purple","green","cyan","olive","lav","navy"], "range": [1,1,1,1.2,1.8,1.2,1.5,1.5,1.2,1.6,1.6,1.5,1.5,1.5,1.5,1.5,1.5,1.7,1.7,1.5,1,1.7]}},
   "detail": {"field": "s"}
  }},
 {"data": {"values": [{}]}, "mark": {"type": "rule", "color": "#000", "strokeWidth": 1.5}, "encoding": {"y": {"datum": 200, "type": "quantitative"}}},
 {"data": {"name": "At"}, "transform": [{"filter": "datum.k != 'n' && datum.k != 's'"}], "mark": {"type": "text", "fontWeight": "bold"},
  "encoding": {"x": {"field": "x", "type": "quantitative", "axis": null}, "y": {"field": "y", "type": "quantitative", "title": "Intensity (a.u)"}, "text": {"field": "t"},
   "size": {"field": "k", "type": "ordinal", "legend": null, "scale": {"domain": ["L","h","u"], "range": [19,13,14]}}}},
 {"data": {"name": "At"}, "transform": [{"filter": "datum.k == 's'"}], "mark": {"type": "text", "fontWeight": "bold", "fontSize": 9, "align": "left"},
  "encoding": {"x": {"field": "x", "type": "quantitative", "axis": null}, "y": {"field": "y", "type": "quantitative", "title": "Intensity (a.u)"}, "text": {"field": "t"}}},
 {"data": {"name": "At"}, "transform": [{"filter": "datum.k == 'n'"}], "mark": {"type": "text", "angle": 270, "fontSize": 11.5},
  "encoding": {"x": {"field": "x", "type": "quantitative", "axis": {"orient": "bottom", "values": [525.5,524.5,523.5,522.5,521.5,520.5,519.5,518.5,517.5,516.5,515.5,514.5,513.5], "labels": false, "title": null, "tickSize": 3, "domain": false}}, "y": {"field": "y", "type": "quantitative", "title": "Intensity (a.u)"}, "text": {"field": "t"}}}
]},
{"width": 294, "height": 402, "resolve": {"axis": {"x": "independent"}}, "layer": [
 {"data": {"name": "B"}, "mark": {"type": "line", "interpolate": "monotone"},
  "encoding": {
   "x": {"field": "x", "type": "quantitative", "title": "Binding Energy (eV)", "scale": {"domain": [920, 875], "nice": false, "zero": false},
     "axis": {"orient": "bottom", "values": [920,910,900,890,880], "tickSize": 5, "labelFontSize": 10.5, "labelOverlap": false, "labelFlush": false, "domain": false, "titleFontSize": 13, "titlePadding": 11}},
   "y": {"field": "y", "type": "quantitative", "title": "Intensity (a.u)", "scale": {"domain": [0, 402], "nice": false, "zero": false}, "axis": {"labels": false, "ticks": false, "domain": false, "titleFontSize": 14, "titlePadding": 8}},
   "color": {"field": "c", "type": "nominal", "legend": null, "scale": {"domain": ["data","env","envs","envk","envt","base","baseR","baseK","baseP","blue","blue2","red","mag","pink","teal","brown","purple","green","cyan","olive","lav","navy"], "range": ["#707070","#3c3c9c","#6e6ed0","#111111","#2e8b8b","#4c4c8c","#b8452e","#4a4030","#9a80c0","#0000ff","#0000ff","#ff0000","#ff00ff","#ff44ff","#1d8b78","#8b1a1a","#8a20d0","#00dd00","#00e5e5","#8f8050","#7b7bff","#1a237e"]}},
   "strokeWidth": {"field": "c", "type": "ordinal", "legend": null, "scale": {"domain": ["data","env","envs","envk","envt","base","baseR","baseK","baseP","blue","blue2","red","mag","pink","teal","brown","purple","green","cyan","olive","lav","navy"], "range": [1,1,1,1.2,1.8,1.2,1.5,1.5,1.2,1.6,1.6,1.5,1.5,1.5,1.5,1.5,1.5,1.7,1.7,1.5,1,1.7]}},
   "detail": {"field": "s"}
  }},
 {"data": {"values": [{}]}, "mark": {"type": "rule", "color": "#000", "strokeWidth": 1.5}, "encoding": {"y": {"datum": 201.7, "type": "quantitative"}}},
 {"data": {"name": "Bt"}, "transform": [{"filter": "datum.k != 'n' && datum.k != 's'"}], "mark": {"type": "text", "fontWeight": "bold"},
  "encoding": {"x": {"field": "x", "type": "quantitative", "axis": null}, "y": {"field": "y", "type": "quantitative", "title": "Intensity (a.u)"}, "text": {"field": "t"},
   "size": {"field": "k", "type": "ordinal", "legend": null, "scale": {"domain": ["L","h","u"], "range": [19,13,14]}}}},
 {"data": {"name": "Bt"}, "transform": [{"filter": "datum.k == 's'"}], "mark": {"type": "text", "fontWeight": "bold", "fontSize": 9, "align": "left"},
  "encoding": {"x": {"field": "x", "type": "quantitative", "axis": null}, "y": {"field": "y", "type": "quantitative", "title": "Intensity (a.u)"}, "text": {"field": "t"}}},
 {"data": {"name": "Bt"}, "transform": [{"filter": "datum.k == 'n'"}], "mark": {"type": "text", "angle": 270, "fontSize": 10},
  "encoding": {"x": {"field": "x", "type": "quantitative", "axis": {"orient": "bottom", "values": [915,905,895,885,875], "labels": false, "title": null, "tickSize": 3, "domain": false}}, "y": {"field": "y", "type": "quantitative", "title": "Intensity (a.u)"}, "text": {"field": "t"}}}
]}
], "spacing": 44},
{"hconcat": [
{"width": 261, "height": 377, "resolve": {"axis": {"x": "independent"}}, "layer": [
 {"data": {"name": "C"}, "mark": {"type": "line", "interpolate": "monotone"},
  "encoding": {
   "x": {"field": "x", "type": "quantitative", "title": "Binding Energy (eV)", "scale": {"domain": [536, 526], "nice": false, "zero": false},
     "axis": {"orient": "bottom", "values": [536,535,534,533,532,531,530,529,528,527,526], "tickSize": 5, "labelFontSize": 12.5, "labelFontWeight": "bold", "labelOverlap": false, "labelFlush": false, "domain": false, "titleFontSize": 15, "titlePadding": 13}},
   "y": {"field": "y", "type": "quantitative", "title": "Intensity (a.u)", "scale": {"domain": [0, 377], "nice": false, "zero": false}, "axis": {"labels": false, "ticks": false, "domain": false, "titleFontSize": 15, "titlePadding": 9}},
   "color": {"field": "c", "type": "nominal", "legend": null, "scale": {"domain": ["data","env","envs","envk","envt","base","baseR","baseK","baseP","blue","blue2","red","mag","pink","teal","brown","purple","green","cyan","olive","lav","navy"], "range": ["#707070","#3c3c9c","#6e6ed0","#111111","#2e8b8b","#4c4c8c","#b8452e","#4a4030","#9a80c0","#0000ff","#0000ff","#ff0000","#ff00ff","#ff44ff","#1d8b78","#8b1a1a","#8a20d0","#00dd00","#00e5e5","#8f8050","#7b7bff","#1a237e"]}},
   "strokeWidth": {"field": "c", "type": "ordinal", "legend": null, "scale": {"domain": ["data","env","envs","envk","envt","base","baseR","baseK","baseP","blue","blue2","red","mag","pink","teal","brown","purple","green","cyan","olive","lav","navy"], "range": [1,1,1,1.2,1.8,1.2,1.5,1.5,1.2,1.6,1.6,1.5,1.5,1.5,1.5,1.5,1.5,1.7,1.7,1.5,1,1.7]}},
   "detail": {"field": "s"}
  }},
 {"data": {"values": [{}]}, "mark": {"type": "rule", "color": "#000", "strokeWidth": 1.5}, "encoding": {"y": {"datum": 189, "type": "quantitative"}}},
 {"data": {"name": "Ct"}, "transform": [{"filter": "datum.k != 'n'"}], "mark": {"type": "text", "fontWeight": "bold"},
  "encoding": {"x": {"field": "x", "type": "quantitative", "axis": null}, "y": {"field": "y", "type": "quantitative", "title": "Intensity (a.u)"}, "text": {"field": "t"},
   "size": {"field": "k", "type": "ordinal", "legend": null, "scale": {"domain": ["L","h","u"], "range": [19,13,14]}}}},
 {"data": {"name": "Ct"}, "transform": [{"filter": "datum.k == 'n'"}], "mark": {"type": "text", "angle": 270, "fontSize": 10},
  "encoding": {"x": {"field": "x", "type": "quantitative", "axis": {"orient": "bottom", "values": [535.5,534.5,533.5,532.5,531.5,530.5,529.5,528.5,527.5,526.5], "labels": false, "title": null, "tickSize": 3, "domain": false}}, "y": {"field": "y", "type": "quantitative", "title": "Intensity (a.u)"}, "text": {"field": "t"}}}
]},
{"width": 270, "height": 377, "resolve": {"axis": {"x": "independent"}}, "layer": [
 {"data": {"name": "D"}, "mark": {"type": "line", "interpolate": "monotone"},
  "encoding": {
   "x": {"field": "x", "type": "quantitative", "title": "Binding Energy (eV)", "scale": {"domain": [293, 282], "nice": false, "zero": false},
     "axis": {"orient": "bottom", "values": [293,292,291,290,289,288,287,286,285,284,283,282], "tickSize": 5, "labelFontSize": 12.5, "labelFontWeight": "bold", "labelOverlap": false, "labelFlush": false, "domain": false, "titleFontSize": 15, "titlePadding": 13}},
   "y": {"field": "y", "type": "quantitative", "title": "Intensity (a.u)", "scale": {"domain": [0, 379], "nice": false, "zero": false}, "axis": {"labels": false, "ticks": false, "domain": false, "titleFontSize": 15, "titlePadding": 6}},
   "color": {"field": "c", "type": "nominal", "legend": null, "scale": {"domain": ["data","env","envs","envk","envt","base","baseR","baseK","baseP","blue","blue2","red","mag","pink","teal","brown","purple","green","cyan","olive","lav","navy"], "range": ["#707070","#3c3c9c","#6e6ed0","#111111","#2e8b8b","#4c4c8c","#b8452e","#4a4030","#9a80c0","#0000ff","#0000ff","#ff0000","#ff00ff","#ff44ff","#1d8b78","#8b1a1a","#8a20d0","#00dd00","#00e5e5","#8f8050","#7b7bff","#1a237e"]}},
   "strokeWidth": {"field": "c", "type": "ordinal", "legend": null, "scale": {"domain": ["data","env","envs","envk","envt","base","baseR","baseK","baseP","blue","blue2","red","mag","pink","teal","brown","purple","green","cyan","olive","lav","navy"], "range": [1,1,1,1.2,1.8,1.2,1.5,1.5,1.2,1.6,1.6,1.5,1.5,1.5,1.5,1.5,1.5,1.7,1.7,1.5,1,1.7]}},
   "detail": {"field": "s"}
  }},
 {"data": {"values": [{}]}, "mark": {"type": "rule", "color": "#000", "strokeWidth": 1.5}, "encoding": {"y": {"datum": 189.7, "type": "quantitative"}}},
 {"data": {"name": "Dt"}, "transform": [{"filter": "datum.k != 'n'"}], "mark": {"type": "text", "fontWeight": "bold"},
  "encoding": {"x": {"field": "x", "type": "quantitative", "axis": null}, "y": {"field": "y", "type": "quantitative", "title": "Intensity (a.u)"}, "text": {"field": "t"},
   "size": {"field": "k", "type": "ordinal", "legend": null, "scale": {"domain": ["L","h","u"], "range": [19,13,14]}}}},
 {"data": {"name": "Dt"}, "transform": [{"filter": "datum.k == 'n'"}], "mark": {"type": "text", "angle": 270, "fontSize": 10.5},
  "encoding": {"x": {"field": "x", "type": "quantitative", "axis": {"orient": "bottom", "values": [292.5,291.5,290.5,289.5,288.5,287.5,286.5,285.5,284.5,283.5,282.5], "labels": false, "title": null, "tickSize": 3, "domain": false}}, "y": {"field": "y", "type": "quantitative", "title": "Intensity (a.u)"}, "text": {"field": "t"}}}
]}
], "spacing": 72}
]
}
